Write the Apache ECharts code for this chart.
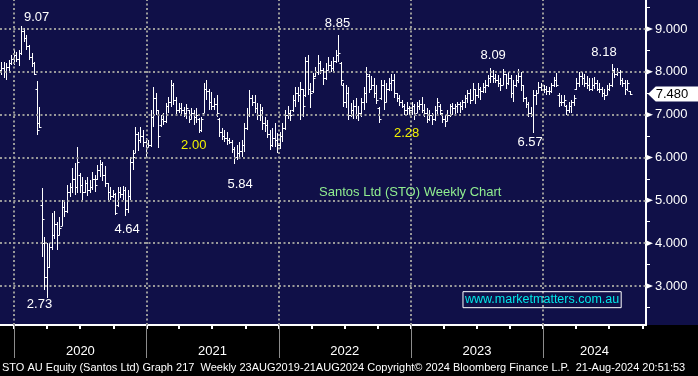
<!DOCTYPE html>
<html><head><meta charset="utf-8">
<script src="https://cdn.jsdelivr.net/npm/echarts@6/dist/echarts.min.js"></script>
<style>
html,body{margin:0;padding:0;width:698px;height:376px;overflow:hidden;background:#000;}
#c{width:698px;height:376px;background:linear-gradient(to bottom,#101048 0,#101048 325px,#000 325px,#000 376px);}
</style></head><body><div id="c"></div>
<script>
// ---- data ----
const firstBarDate = '2019-11-26';   // weekly bars, 7 days apart
const axisStart = '2019-11-23';
const axisEnd = '2024-10-11';
const openP = [8.05,8.10,8.00,8.12,8.20,8.30,8.40,8.30,8.45,8.95,8.80,8.60,8.35,8.20,7.60,6.80,4.89,4.00,3.20,3.45,
3.90,4.20,4.45,4.20,4.40,4.85,4.75,5.20,5.30,5.50,5.30,5.60,5.35,5.20,5.40,5.25,5.30,5.50,5.50,5.70,
5.85,5.60,5.40,5.20,5.10,5.15,4.90,5.20,5.15,5.25,4.80,5.10,5.90,6.10,6.55,6.40,6.50,6.35,6.25,6.30,
6.95,7.40,7.10,6.75,6.90,6.85,7.20,7.30,7.70,7.35,7.10,7.15,7.10,7.05,7.10,6.90,7.05,6.95,6.90,6.65,
7.05,7.60,7.55,7.30,7.20,7.25,6.90,6.60,6.50,6.45,6.40,6.35,6.20,6.00,6.10,6.15,6.30,6.70,7.00,7.40,
7.30,7.15,7.00,7.10,6.80,6.75,6.55,6.30,6.45,6.40,6.30,6.50,6.70,7.00,7.05,7.10,7.35,7.50,7.45,7.60,
7.45,8.25,7.60,7.55,7.90,8.00,8.20,8.05,7.85,8.05,8.15,8.10,8.25,8.40,8.20,7.70,7.30,7.50,7.00,7.10,
7.20,7.00,7.05,7.30,7.50,7.90,7.60,7.70,7.50,7.15,7.40,7.70,7.30,7.60,7.75,7.80,7.50,7.40,7.30,7.20,
7.10,7.15,7.10,7.20,7.05,7.20,7.25,7.10,7.05,6.90,7.00,6.90,7.10,7.20,7.05,6.90,6.85,7.00,7.20,7.15,
7.20,7.25,7.20,7.30,7.40,7.50,7.35,7.60,7.45,7.60,7.55,7.65,7.70,7.85,7.90,7.85,7.80,7.75,7.70,7.95,
7.75,7.85,7.50,7.70,7.80,7.90,7.70,7.40,7.25,7.05,7.00,7.45,7.50,7.65,7.60,7.60,7.55,7.55,7.70,7.80,
7.45,7.30,7.30,7.20,7.10,7.20,7.30,7.60,7.75,7.90,7.85,7.75,7.70,7.60,7.70,7.75,7.60,7.60,7.50,7.45,
7.60,7.70,8.05,7.95,8.00,7.80,7.75,7.60,7.55];
const highP = [8.23,8.23,8.20,8.28,8.39,8.51,8.46,8.50,9.07,9.02,8.85,8.63,8.44,8.23,7.79,7.18,5.29,4.14,4.00,4.00,
4.70,4.75,4.50,4.60,5.00,5.00,5.36,5.40,5.75,5.87,6.24,5.64,5.54,5.47,5.54,5.47,5.66,5.60,5.82,5.94,
5.90,5.80,5.40,5.31,5.25,5.17,5.31,5.32,5.33,5.30,5.25,6.00,6.17,6.71,6.60,6.71,6.65,6.45,6.40,7.10,
7.65,7.50,7.10,7.00,7.05,7.27,7.41,7.81,7.74,7.41,7.27,7.27,7.18,7.25,7.10,7.15,7.10,7.15,6.92,6.95,
7.74,7.81,7.60,7.53,7.40,7.46,6.92,6.70,6.64,6.60,6.45,6.41,6.24,6.30,6.35,6.40,6.80,7.15,7.58,7.45,
7.46,7.27,7.25,7.18,6.95,6.88,6.64,6.70,6.80,6.57,6.60,6.80,7.10,7.20,7.10,7.46,7.65,7.65,7.76,7.60,
8.34,8.39,7.74,7.97,8.11,8.39,8.25,8.09,8.20,8.34,8.25,8.34,8.51,8.85,8.23,7.74,7.69,7.65,7.27,7.35,
7.40,7.20,7.40,7.65,8.11,7.95,7.90,7.85,7.70,7.18,7.80,7.80,7.75,7.85,7.95,7.95,7.50,7.45,7.35,7.25,
7.30,7.20,7.30,7.25,7.30,7.35,7.41,7.25,7.15,7.10,7.04,7.20,7.39,7.25,7.05,7.00,7.10,7.25,7.27,7.25,
7.30,7.30,7.35,7.45,7.58,7.60,7.74,7.60,7.74,7.65,7.74,7.80,7.93,8.09,8.05,7.95,7.93,7.85,8.07,7.95,
8.00,7.93,7.81,7.93,8.07,8.00,7.70,7.41,7.30,7.18,7.58,7.58,7.76,7.75,7.70,7.68,7.65,7.75,7.88,7.97,
7.50,7.45,7.45,7.23,7.30,7.34,7.45,7.86,8.00,8.00,7.95,7.90,7.85,7.85,7.88,7.80,7.75,7.65,7.60,7.70,
7.75,8.18,8.10,8.10,8.05,7.85,7.81,7.81,7.55];
const lowP = [7.93,7.86,7.81,8.00,8.16,8.16,8.23,8.14,8.39,8.70,8.51,8.28,8.11,7.93,6.53,6.69,3.68,2.91,2.73,3.43,
3.84,4.10,3.84,4.20,4.40,4.60,4.70,5.08,5.17,5.12,5.17,5.17,5.00,5.17,5.10,5.17,5.24,5.20,5.47,5.54,
5.45,5.30,5.00,5.00,5.05,4.66,4.85,5.05,5.00,4.64,4.70,5.00,5.70,6.10,6.15,6.34,6.25,6.00,6.24,6.24,
6.71,7.00,6.22,6.71,6.75,6.80,7.04,7.18,7.22,7.00,7.05,7.00,6.95,6.90,6.80,6.90,6.75,6.80,6.57,6.60,
7.04,7.34,7.10,7.11,7.10,6.95,6.48,6.40,6.36,6.30,6.31,6.10,5.84,5.95,6.00,6.00,6.13,6.64,6.95,7.20,
7.05,6.88,6.85,6.64,6.60,6.45,6.17,6.25,6.25,6.10,6.20,6.35,6.64,6.90,6.85,7.06,7.18,7.30,6.88,6.95,
7.41,7.46,7.15,7.50,7.88,7.93,7.95,7.69,7.80,8.04,8.00,8.00,8.20,8.23,7.69,7.18,7.16,6.88,6.95,6.90,
6.90,6.85,6.95,7.11,7.27,7.50,7.60,7.40,7.25,6.81,7.35,7.10,7.30,7.55,7.55,7.40,7.30,7.20,7.15,7.00,
7.00,7.00,7.00,6.88,7.05,7.10,7.04,6.95,6.80,6.85,6.76,6.85,7.00,7.00,6.80,6.71,6.85,6.95,7.00,7.00,
7.05,7.05,7.10,7.15,7.27,7.25,7.34,7.25,7.40,7.35,7.50,7.50,7.65,7.74,7.74,7.75,7.65,7.55,7.70,7.60,
7.70,7.39,7.30,7.65,7.74,7.55,7.30,7.15,6.95,6.95,6.57,7.23,7.50,7.55,7.50,7.45,7.46,7.50,7.65,7.65,
7.18,7.20,7.20,7.00,7.04,7.04,7.20,7.58,7.65,7.70,7.65,7.60,7.55,7.55,7.60,7.55,7.50,7.41,7.34,7.45,
7.55,7.65,7.85,7.90,7.70,7.65,7.46,7.55,7.45];
const closeP = [8.10,8.00,8.12,8.20,8.30,8.40,8.30,8.45,8.95,8.80,8.60,8.35,8.20,7.95,6.65,6.72,4.56,3.20,3.45,3.90,
4.20,4.45,4.20,4.35,4.85,4.75,5.20,5.30,5.50,5.30,5.90,5.35,5.20,5.40,5.25,5.30,5.50,5.35,5.70,5.85,
5.60,5.40,5.20,5.10,5.15,4.70,5.20,5.15,5.25,4.80,5.10,5.90,6.00,6.55,6.40,6.50,6.35,6.25,6.30,6.95,
7.40,7.10,6.50,6.90,6.85,7.20,7.30,7.70,7.35,7.10,7.15,7.10,7.05,7.15,6.90,7.05,6.95,7.00,6.65,6.90,
7.60,7.55,7.30,7.20,7.25,7.05,6.60,6.50,6.45,6.40,6.35,6.20,6.00,6.10,6.15,6.30,6.70,7.00,7.40,7.30,
7.15,7.00,7.10,6.80,6.75,6.55,6.30,6.45,6.40,6.30,6.50,6.70,7.00,7.05,7.00,7.35,7.50,7.45,7.60,7.20,
8.25,7.60,7.50,7.85,8.00,8.20,8.05,7.85,8.05,8.15,8.10,8.25,8.40,8.45,7.80,7.30,7.50,7.00,7.10,7.20,
7.00,7.05,7.30,7.50,7.95,7.60,7.70,7.50,7.35,6.90,7.70,7.30,7.60,7.75,7.80,7.50,7.40,7.30,7.20,7.10,
7.15,7.10,7.20,7.00,7.20,7.25,7.10,7.05,6.90,7.00,6.90,7.10,7.30,7.10,6.90,6.85,7.00,7.20,7.15,7.20,
7.25,7.20,7.30,7.40,7.50,7.35,7.60,7.45,7.60,7.55,7.65,7.70,7.85,7.90,7.85,7.80,7.75,7.70,7.95,7.75,
7.85,7.50,7.70,7.80,7.90,7.70,7.40,7.25,7.05,7.00,7.45,7.50,7.65,7.60,7.60,7.55,7.55,7.70,7.80,7.70,
7.30,7.30,7.35,7.10,7.20,7.30,7.40,7.75,7.90,7.85,7.75,7.70,7.60,7.70,7.75,7.60,7.60,7.50,7.45,7.60,
7.70,8.05,7.95,8.00,7.80,7.75,7.60,7.75,7.48];
const lastPrice = 7.48;
const yLabelValues = [3,4,5,6,7,8,9];
const yMinorValues = [2.5,3.5,4.5,5.5,6.5,7.5,8.5,9.5];
const yearLabels = ['2020','2021','2022','2023','2024'];
const yearLabelDates = ['2020-07-02','2021-07-02','2022-07-02','2023-07-02','2024-05-22'];
const yearStartDates = ['2020-01-01','2021-01-01','2022-01-01','2023-01-01','2024-01-01'];
const quarterDates = ['2020-01-01','2020-04-01','2020-07-01','2020-10-01','2021-01-01','2021-04-01','2021-07-01','2021-10-01',
'2022-01-01','2022-04-01','2022-07-01','2022-10-01','2023-01-01','2023-04-01','2023-07-01','2023-10-01',
'2024-01-01','2024-04-01','2024-07-01','2024-10-01'];
const annoTexts = ['9.07','2.73','4.64','2.00','5.84','8.85','2.28','8.09','6.57','8.18'];
const annoDates = ['2020-03-03','2020-03-11','2020-11-08','2021-05-11','2021-09-16','2022-06-12','2022-12-20','2023-08-16','2023-11-26','2024-06-17'];
const annoValues = [9.28,2.56,4.33,6.28,5.38,9.14,6.57,8.39,6.36,8.46];
const annoColors = ['#ffffff','#ffffff','#ffffff','#f2f200','#ffffff','#ffffff','#f2f200','#ffffff','#ffffff','#ffffff'];
const chartTitle = 'Santos Ltd (STO) Weekly Chart';
const titleAt = ['2022-12-30', 5.19];
const siteText = 'www.marketmatters.com.au';
const siteAt = ['2023-12-29', 2.68];
const footer = 'STO AU Equity (Santos Ltd) Graph 217  Weekly 23AUG2019-21AUG2024 Copyright\u00A9 2024 Bloomberg Finance L.P.  21-Aug-2024 20:51:53';

// ---- build ----
const DAY = 86400000;
const t0 = Date.parse(firstBarDate);
const bars = closeP.map((c, i) => [t0 + i * 7 * DAY, openP[i], highP[i], lowP[i], c]);
const xMin = Date.parse(axisStart), xMax = Date.parse(axisEnd);
const FONT = '"Liberation Sans", Arial, sans-serif';

const markPoints = [];
yLabelValues.forEach(v => markPoints.push({
  coord: [xMax, v], symbol: 'path://M0,0L6,3L0,6Z', symbolSize: [6, 5], symbolOffset: [4, 0],
  itemStyle: { color: '#fff' }, label: { show: false }
}));
markPoints.push({
  coord: [xMax, lastPrice], symbol: 'path://M0,8L8,0L52,0L52,16L8,16Z', symbolSize: [50, 15], symbolOffset: [27, 0],
  itemStyle: { color: '#fff' },
  label: { show: true, position: 'inside', formatter: lastPrice.toFixed(3), color: '#000', fontSize: 13, fontFamily: FONT, offset: [-1, 0] }
});
annoTexts.forEach((txt, i) => markPoints.push({
  coord: [Date.parse(annoDates[i]), annoValues[i]], symbol: 'circle', symbolSize: 1,
  itemStyle: { color: 'rgba(0,0,0,0)' },
  label: { show: true, position: 'inside', formatter: txt, color: annoColors[i], fontSize: 13, fontFamily: FONT }
}));
markPoints.push({
  coord: [Date.parse(titleAt[0]), titleAt[1]], symbol: 'circle', symbolSize: 1, itemStyle: { color: 'rgba(0,0,0,0)' },
  label: { show: true, position: 'inside', formatter: chartTitle, color: '#90ee90', fontSize: 13, fontFamily: FONT }
});
markPoints.push({
  coord: [Date.parse(siteAt[0]), siteAt[1]], symbol: 'circle', symbolSize: 1, itemStyle: { color: 'rgba(0,0,0,0)' },
  label: { show: true, position: 'inside', formatter: siteText, color: '#00e8e8', fontSize: 12.5, fontFamily: FONT,
    borderColor: '#ffffff', borderWidth: 1, padding: [2, 2, 1, 2] }
});

const gridLines = yLabelValues.map(v => ({ yAxis: v })).concat(yearStartDates.map(d => ({ xAxis: Date.parse(d) })));

const chart = echarts.init(document.getElementById('c'), null, { renderer: 'canvas' });
chart.setOption({
  animation: false,
  backgroundColor: 'transparent',
  grid: { left: 0, right: 52, top: 0, bottom: 51, containLabel: false },
  xAxis: [{
    type: 'value', min: xMin, max: xMax, position: 'bottom',
    axisLine: { show: true, lineStyle: { color: '#fff', width: 2 } },
    axisTick: { show: true, customValues: quarterDates.map(d => Date.parse(d)), length: 4, lineStyle: { color: '#fff', width: 2 } },
    axisLabel: { show: true, customValues: yearLabelDates.map(d => Date.parse(d)), color: '#fff', fontSize: 13, fontFamily: FONT, margin: 20,
      formatter: v => { const k = yearLabelDates.map(d => Date.parse(d)).indexOf(v); return k >= 0 ? yearLabels[k] : ''; } },
    splitLine: { show: false }
  }, {
    type: 'value', min: xMin, max: xMax, position: 'bottom',
    axisLine: { show: false },
    axisTick: { show: true, customValues: yearStartDates.map(d => Date.parse(d)), length: 33, lineStyle: { color: '#8c8c8c', width: 1 } },
    axisLabel: { show: false }, splitLine: { show: false }
  }],
  yAxis: {
    type: 'value', position: 'right', min: 2.089, max: 9.677,
    axisLine: { show: true, lineStyle: { color: '#fff', width: 2 } },
    axisTick: { show: true, customValues: yMinorValues, length: 4, lineStyle: { color: '#fff', width: 1 } },
    axisLabel: { show: true, customValues: yLabelValues, formatter: v => v.toFixed(3), color: '#fff', fontSize: 13, fontFamily: FONT, margin: 9 },
    splitLine: { show: false }
  },
  series: [{
    type: 'custom', clip: false,
    xAxisIndex: 0, yAxisIndex: 0,
    data: bars,
    encode: { x: 0, y: [1, 2, 3, 4] },
    renderItem: function (params, api) {
      const t = api.value(0);
      const pH = api.coord([t, api.value(2)]);
      const pL = api.coord([t, api.value(3)]);
      const pO = api.coord([t, api.value(1)]);
      const pC = api.coord([t, api.value(4)]);
      const x = Math.round(pH[0]) + 0.5;
      const yo = Math.round(pO[1]) + 0.5, yc = Math.round(pC[1]) + 0.5;
      const st = { stroke: '#ffffff', lineWidth: 1 };
      return { type: 'group', children: [
        { type: 'line', shape: { x1: x, y1: Math.round(pH[1]), x2: x, y2: Math.max(Math.round(pL[1]), Math.round(pH[1]) + 1) }, style: st },
        { type: 'line', shape: { x1: x - 2, y1: yo, x2: x, y2: yo }, style: st },
        { type: 'line', shape: { x1: x, y1: yc, x2: x + 2, y2: yc }, style: st }
      ] };
    },
    markLine: { silent: true, symbol: 'none', animation: false, label: { show: false },
      lineStyle: { color: '#9a9a9a', type: [2, 2.5], width: 2 }, data: gridLines },
    markPoint: { silent: true, animation: false, data: markPoints }
  }],
  graphic: [{
    type: 'text', left: 2, top: 362,
    style: { text: footer, fill: '#ffffff', font: '11px ' + FONT }
  }]
});
</script></body></html>
